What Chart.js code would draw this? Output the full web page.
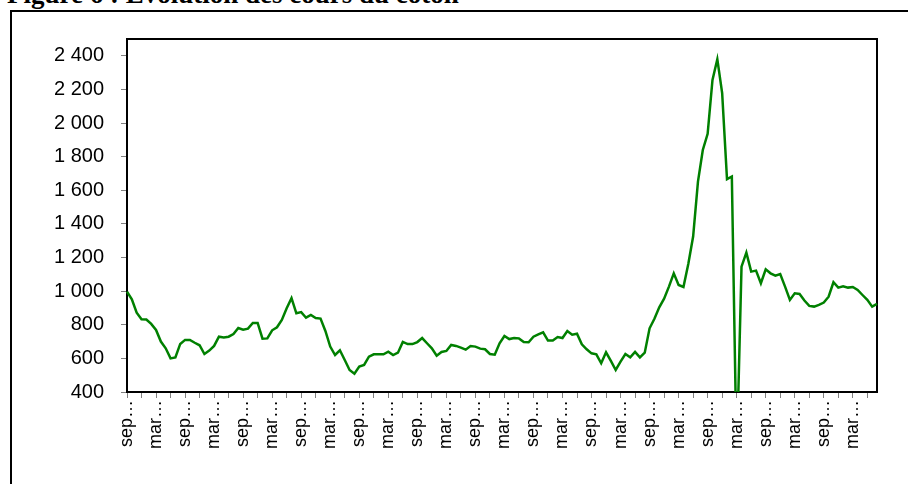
<!DOCTYPE html>
<html>
<head>
<meta charset="utf-8">
<script src="https://cdn.jsdelivr.net/npm/chart.js@4"></script>
<style>
  html, body { margin: 0; padding: 0; background: #fff; overflow: hidden; }
  body { width: 908px; height: 484px; position: relative; }
  .title {
    position: absolute; left: 7px; top: -19px;
    font: bold 27px/27px "Liberation Serif", "Times New Roman", serif;
    color: #000; white-space: nowrap;
  }
  .frame {
    position: absolute; left: 10px; top: 10px;
    width: 1000px; height: 600px;
    border: 2px solid #000;
  }
  #chart { position: absolute; left: 0; top: 0; }
</style>
</head>
<body>
<div class="title">Figure 6 : Evolution des cours du coton</div>
<div class="frame"></div>
<canvas id="chart" width="908" height="484"></canvas>
<script>
// mois de la série (départ en septembre), une valeur par mois
const monthNames = ["sep", "oct", "nov", "déc", "jan", "fév", "mar", "avr", "mai", "jun", "jul", "aoû"];
const categories = Array.from({ length: 156 }, (_, i) => monthNames[i % 12] + "…");

const cotton = [
  997, 952, 872, 833, 831, 805, 769, 700, 660, 600,
  606, 686, 710, 710, 693, 678, 626, 646, 674, 729,
  725, 729, 745, 781, 771, 777, 811, 811, 717, 719,
  767, 785, 829, 898, 958, 868, 875, 842, 858, 840,
  837, 763, 670, 620, 648, 590, 531, 509, 551, 561,
  610, 624, 624, 624, 640, 620, 634, 698, 685, 685,
  697, 721, 690, 660, 616, 638, 644, 680, 674, 664,
  652, 674, 670, 658, 654, 626, 622, 690,
  733, 715, 721, 719, 698, 696, 729, 743, 755, 706,
  706, 727, 721, 763, 741, 747, 684, 654, 630, 624,
  571, 636, 585, 531, 581, 626, 606, 638, 606, 634,
  779, 836, 904, 955, 1027, 1106, 1037, 1025, 1162, 1325,
  1652, 1840, 1936, 2257, 2380, 2178, 1666, 1682, 0, 1146,
  1229, 1116, 1122, 1047, 1130, 1106, 1092, 1102, 1027, 948,
  987, 983, 944, 912, 908, 918, 932, 967, 1053, 1021,
  1029, 1021, 1025, 1007, 977, 948, 908, 924
];

const yTicks = [400, 600, 800, 1000, 1200, 1400, 1600, 1800, 2000, 2200, 2400];

// cadre noir autour de la zone de tracé
const plotBorder = {
  id: "plotBorder",
  beforeDatasetsDraw(chart) {
    const { ctx, chartArea: a } = chart;
    ctx.save();
    ctx.strokeStyle = "#000";
    ctx.lineWidth = 2;
    ctx.strokeRect(a.left, a.top, a.right - a.left, a.bottom - a.top);
    ctx.restore();
  }
};

const fmt = v => String(v).replace(/\B(?=(\d{3})+(?!\d))/g, " ");

new Chart(document.getElementById("chart"), {
  type: "line",
  data: {
    labels: categories,
    datasets: [{
      data: cotton,
      borderColor: "#008000",
      borderWidth: 2.5,
      pointRadius: 0,
      tension: 0,
      fill: false
    }]
  },
  options: {
    responsive: false,
    devicePixelRatio: 1,
    animation: false,
    layout: { padding: { left: 0, top: 39, right: 31, bottom: 0 } },
    plugins: { legend: { display: false }, tooltip: { enabled: false } },
    scales: {
      x: {
        offset: false,
        border: { display: false },
        grid: {
          drawOnChartArea: false,
          tickLength: 6,
          tickColor: ctx => (ctx.index % 3 === 0 ? "#808080" : "rgba(0,0,0,0)")
        },
        ticks: {
          autoSkip: false,
          minRotation: 90,
          maxRotation: 90,
          padding: 2,
          color: "#000",
          font: { family: "'Liberation Sans', Arial, sans-serif", size: 18 },
          callback: (v, i) => (i % 6 === 0 ? categories[i] : "")
        },
        afterFit: s => { s.height = 92; }
      },
      y: {
        min: 400,
        max: 2500,
        border: { display: false },
        grid: { drawOnChartArea: false, tickLength: 6, tickColor: "#808080" },
        afterBuildTicks: s => { s.ticks = yTicks.map(v => ({ value: v })); },
        ticks: {
          padding: 17,
          color: "#000",
          font: { family: "'Liberation Sans', Arial, sans-serif", size: 20 },
          callback: v => fmt(v)
        },
        afterFit: s => { s.width = 127; }
      }
    }
  },
  plugins: [plotBorder]
});
</script>
</body>
</html>
